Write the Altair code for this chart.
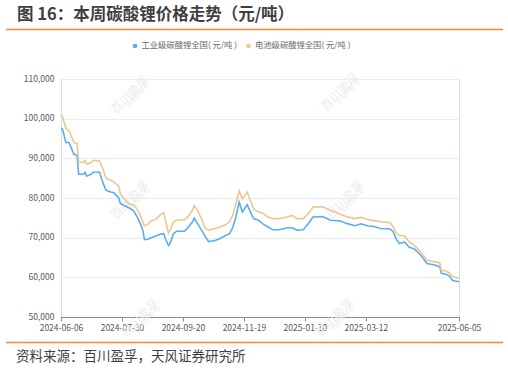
import altair as alt
import pandas as pd

# trading-day index of each sample
idx = [0, 1, 3, 5, 6, 8, 10, 11, 14, 15, 16, 19, 20, 24, 26, 28, 31, 33, 36, 37,
       40, 42, 45, 47, 49, 51, 52, 54, 56, 59, 62, 64, 65, 67, 68, 70, 72, 77, 79, 82,
       83, 85, 87, 90, 92, 96, 99, 102, 105, 107, 109, 111, 113, 116, 118, 120, 123, 126, 129, 132,
       136, 141, 144, 147, 151, 155, 157, 163, 168, 174, 178, 183, 187, 191, 195, 199, 205, 207, 209, 211,
       214, 217, 220, 222, 225, 228, 233, 236, 237, 240, 242, 244, 248]
industrial = [97.5, 97.3, 94.0, 94.0, 93.0, 91.0, 90.8, 86.0, 86.0, 86.5, 85.5, 86.0, 86.5, 86.5, 84.0, 82.0, 81.5, 81.3, 80.0, 78.6,
              78.0, 77.6, 76.9, 75.6, 74.0, 71.9, 69.5, 69.6, 70.0, 70.4, 70.9, 71.0, 69.8, 68.0, 68.5, 71.0, 71.6, 71.6, 72.5, 74.0,
              74.9, 73.6, 72.3, 70.2, 69.0, 69.3, 69.8, 70.4, 71.0, 72.5, 75.2, 79.0, 76.5, 78.3, 76.5, 74.8, 74.4, 73.4, 72.7, 72.0,
              72.0, 72.5, 72.5, 71.9, 72.0, 74.0, 75.2, 75.3, 74.4, 74.2, 73.6, 73.0, 73.5, 73.0, 72.8, 72.3, 72.2, 71.5, 69.5, 68.5,
              68.9, 67.6, 67.2, 66.5, 65.2, 63.5, 63.1, 62.7, 61.0, 60.8, 60.3, 59.2, 58.9]
battery = [101.0, 100.5, 97.5, 97.0, 96.0, 94.0, 93.8, 89.0, 89.0, 89.5, 88.5, 89.0, 89.5, 89.3, 87.5, 85.0, 84.5, 84.0, 83.0, 81.0,
           79.5, 78.6, 78.2, 77.5, 76.0, 74.0, 73.0, 73.3, 74.2, 74.6, 75.8, 76.3, 74.4, 71.2, 71.9, 74.0, 74.4, 74.5, 75.3, 76.9,
           78.1, 76.9, 75.2, 72.3, 71.9, 72.3, 72.7, 73.1, 74.0, 75.6, 78.6, 81.8, 79.8, 81.5, 79.4, 77.3, 76.5, 76.1, 75.2, 74.8,
           74.8, 75.2, 75.6, 74.8, 74.8, 76.5, 77.7, 77.8, 76.9, 75.9, 75.3, 74.8, 75.1, 74.6, 74.3, 74.0, 73.8, 72.7, 71.0, 70.6,
           70.4, 68.9, 68.1, 67.3, 66.0, 64.3, 63.9, 63.7, 61.8, 61.6, 61.1, 60.2, 59.7]

series_names = ["工业级碳酸锂全国( 元/吨 )", "电池级碳酸锂全国( 元/吨 )"]
series_colors = ["#5AADF2", "#EEC690"]

tick_idx = [0, 38, 76, 114, 152, 190, 248]
tick_labels = ["2024-06-06", "2024-07-30", "2024-09-20", "2024-11-19",
               "2025-01-10", "2025-03-12", "2025-06-05"]
y_ticks = [50000, 60000, 70000, 80000, 90000, 100000, 110000]

title_text = "图 16：本周碳酸锂价格走势（元/吨）"
source_text = "资料来源：百川盈孚，天风证券研究所"
FONT = "Noto Sans CJK SC"

rows = []
for i, a, b in zip(idx, industrial, battery):
    rows.append({"i": i, "v": a * 1000, "s": series_names[0]})
    rows.append({"i": i, "v": b * 1000, "s": series_names[1]})
df = pd.DataFrame(rows)

W, H = 398, 238
PL, PT = 61, 79

label_expr = ("[" + ",".join("'%s'" % t for t in tick_labels) + "][indexof(["
              + ",".join(str(t) for t in tick_idx) + "], datum.value)]")

lines = alt.Chart(df).mark_line(strokeWidth=1.6).encode(
    x=alt.X("i:Q", scale=alt.Scale(domain=[0, 248], nice=False, zero=False),
            axis=alt.Axis(values=tick_idx, labelExpr=label_expr, title=None, grid=False,
                          domainColor="#8C8C8C", tickColor="#8C8C8C", tickSize=4,
                          labelFont=FONT, labelFontSize=8.5, labelColor="#595959",
                          labelPadding=2, labelFlush=False)),
    y=alt.Y("v:Q", scale=alt.Scale(domain=[50000, 110000], nice=False, zero=False),
            axis=alt.Axis(values=y_ticks, labelExpr="format(datum.value, ',.0f')", title=None,
                          domain=False, ticks=False, labelOffset=-1,
                          gridColor="#E8ECF5", gridWidth=1,
                          labelFont=FONT, labelFontSize=8.5, labelColor="#595959",
                          labelPadding=7)),
    color=alt.Color("s:N", scale=alt.Scale(domain=series_names, range=series_colors), legend=None),
    order=alt.Order("i:Q"),
)

wm_df = pd.DataFrame({"wx": [130 - PL, 340 - PL, 130 - PL, 345 - PL, 140 - PL, 335 - PL],
                      "wy": [95 - PT, 92 - PT, 200 - PT, 200 - PT, 318 - PT, 318 - PT]})
watermark = alt.Chart(wm_df).mark_text(text="百川盈孚", angle=315, font=FONT, fontSize=12,
                                       color="#EBEBEB").encode(
    x=alt.X("wx:Q", scale=None), y=alt.Y("wy:Q", scale=None))
watermark2 = alt.Chart(wm_df).mark_text(text="BAIINFO", angle=315, font=FONT, fontSize=8,
                                        color="#EDEDED", dx=6, dy=6).encode(
    x=alt.X("wx:Q", scale=None), y=alt.Y("wy:Q", scale=None))

def text_at(txt, x, y, size, color, weight="normal", align="left"):
    return alt.Chart(pd.DataFrame({"t": [txt]})).mark_text(
        font=FONT, fontSize=size, color=color, fontWeight=weight, align=align,
        baseline="middle").encode(text="t:N", x=alt.value(x - PL), y=alt.value(y - PT))

title = text_at(title_text, 17, 15, 16.5, "#3F3F3F", weight="bold")
source = text_at(source_text, 16, 357, 13.5, "#3F3F3F")

rule_top = alt.Chart(pd.DataFrame({"a": [0]})).mark_rule(color="#F28A30", strokeWidth=1.5).encode(
    x=alt.value(6 - PL), x2=alt.value(503 - PL), y=alt.value(29.5 - PT))
rule_bot = alt.Chart(pd.DataFrame({"a": [0]})).mark_rule(color="#F28A30", strokeWidth=1.5).encode(
    x=alt.value(6 - PL), x2=alt.value(503 - PL), y=alt.value(342.5 - PT))

leg_dots = alt.Chart(pd.DataFrame({"s": series_names, "lx": [135 - PL, 248.5 - PL]})).mark_point(
    filled=True, size=22, opacity=1, shape="circle").encode(
    x=alt.X("lx:Q", scale=None), y=alt.value(46 - PT),
    color=alt.Color("s:N", scale=alt.Scale(domain=series_names, range=series_colors), legend=None))
leg_text = alt.Chart(pd.DataFrame({"s": series_names, "lx": [141.5 - PL, 255 - PL]})).mark_text(
    font=FONT, fontSize=8.3, color="#6B6B6B", align="left", baseline="middle").encode(
    x=alt.X("lx:Q", scale=None), y=alt.value(46 - PT), text="s:N")

chart = alt.layer(watermark, watermark2, lines, title, source, rule_top, rule_bot,
                  leg_dots, leg_text).properties(
    width=W, height=H,
    autosize=alt.AutoSizeParams(type="none"),
    padding={"left": PL, "top": PT, "right": 508 - PL - W, "bottom": 372 - PT - H},
).configure_view(stroke=None).configure(background="white")

chart.save("out.html", embed_options={"renderer": "svg", "actions": False})
